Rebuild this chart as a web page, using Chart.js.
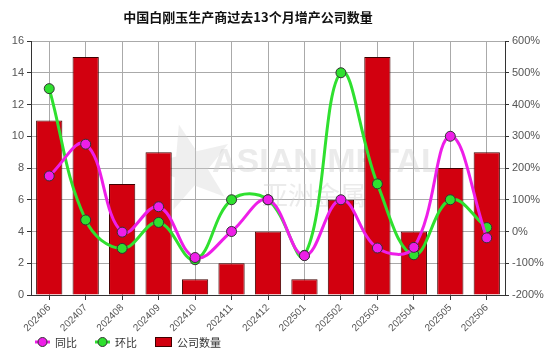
<!DOCTYPE html>
<html>
<head>
<meta charset="utf-8">
<script src="https://cdn.jsdelivr.net/npm/chart.js@4.4.1/dist/chart.umd.min.js"></script>
<style>
  html, body { margin: 0; padding: 0; background: #fff; }
  #wrap { width: 558px; height: 353px; position: relative; }
</style>
</head>
<body>
<div id="wrap"><canvas id="chart"></canvas></div>
<script>
// data
const months = ['202406', '202407', '202408', '202409', '202410', '202411', '202412',
    '202501', '202502', '202503', '202504', '202505', '202506'];
const companyCount = [11, 15, 7, 9, 1, 2, 4, 1, 6, 15, 4, 8, 9];
const yoyPct = [175, 275, -2, 78, -82, 0, 100, -76, 100, -52, -50, 300, -20];
const momPct = [450, 36.4, -53.3, 28.6, -88.9, 100, 100, -75, 500, 150, -73.3, 100, 12.5];

const titleText = '中国白刚玉生产商过去13个月增产公司数量';
const legendNames = ['同比', '环比', '公司数量'];

const MAGENTA = '#ee1ee8';
const GREEN = '#2fe02f';
const BAR_RED = '#d2000f';
const CJK = '"Noto Sans CJK SC", sans-serif';
const LATIN = '"Liberation Sans", Arial, sans-serif';

const extrasPlugin = {
    id: 'extras',
    beforeDatasetsDraw(chart) {
        const ctx = chart.ctx;
        ctx.save();
        // faint watermark
        ctx.fillStyle = 'rgba(210, 210, 210, 0.35)';
        ctx.beginPath();
        const cx = 190, cy = 168, ro = 45, ri = 18;
        for (let i = 0; i < 10; i++) {
            const r = i % 2 === 0 ? ro : ri;
            const a = -Math.PI / 2 + i * Math.PI / 5 - 0.25;
            const px = cx + r * Math.cos(a);
            const py = cy + r * Math.sin(a);
            if (i === 0) ctx.moveTo(px, py); else ctx.lineTo(px, py);
        }
        ctx.closePath();
        ctx.fill();
        ctx.fillStyle = 'rgba(205, 205, 205, 0.4)';
        ctx.font = 'bold 34px ' + LATIN;
        ctx.textBaseline = 'alphabetic';
        ctx.fillText('ASIAN METAL', 212, 172);
        ctx.font = '26px ' + CJK;
        ctx.fillText('亚洲金属网', 262, 205);
        ctx.restore();
    },
    afterDraw(chart) {
        const ctx = chart.ctx;
        ctx.save();
        ctx.fillStyle = '#111';
        ctx.font = 'bold 13px ' + CJK;
        ctx.textAlign = 'center';
        ctx.textBaseline = 'middle';
        ctx.fillText(titleText, 248, 17);

        // legend
        const ly = 342;
        ctx.font = '11px ' + CJK;
        ctx.textAlign = 'left';
        ctx.fillStyle = '#333';
        [[35, MAGENTA], [95, GREEN]].forEach(function (item, i) {
            const x = item[0];
            ctx.strokeStyle = item[1];
            ctx.lineWidth = 3;
            ctx.beginPath();
            ctx.moveTo(x, ly);
            ctx.lineTo(x + 15, ly);
            ctx.stroke();
            ctx.beginPath();
            ctx.arc(x + 7.5, ly, 4.5, 0, Math.PI * 2);
            ctx.fillStyle = item[1];
            ctx.fill();
            ctx.lineWidth = 1;
            ctx.strokeStyle = '#333';
            ctx.stroke();
            ctx.fillStyle = '#333';
            ctx.fillText(legendNames[i], x + 20, ly + 1);
        });
        ctx.fillStyle = BAR_RED;
        ctx.fillRect(155, ly - 5, 17, 10);
        ctx.strokeStyle = '#400000';
        ctx.lineWidth = 1;
        ctx.strokeRect(155.5, ly - 4.5, 16, 9);
        ctx.fillStyle = '#333';
        ctx.fillText(legendNames[2], 177, ly + 1);
        ctx.restore();
    },
};

new Chart(document.getElementById('chart'), {
    data: {
        labels: months,
        datasets: [
            {
                type: 'line',
                label: legendNames[0],
                data: yoyPct,
                yAxisID: 'y1',
                order: 0,
                borderColor: MAGENTA,
                borderWidth: 3,
                tension: 0.4,
                pointRadius: 5,
                pointBackgroundColor: MAGENTA,
                pointBorderColor: '#333',
                pointBorderWidth: 1,
            },
            {
                type: 'line',
                label: legendNames[1],
                data: momPct,
                yAxisID: 'y1',
                order: 1,
                borderColor: GREEN,
                borderWidth: 3,
                tension: 0.4,
                pointRadius: 5,
                pointBackgroundColor: GREEN,
                pointBorderColor: '#333',
                pointBorderWidth: 1,
            },
            {
                type: 'bar',
                label: legendNames[2],
                data: companyCount,
                yAxisID: 'y',
                order: 2,
                backgroundColor: BAR_RED,
                borderColor: '#400000',
                borderWidth: 1,
                categoryPercentage: 0.72,
                barPercentage: 1,
            },
        ],
    },
    options: {
        responsive: true,
        maintainAspectRatio: false,
        animation: false,
        layout: { padding: { top: 41, left: 0, right: 0, bottom: 12 } },
        plugins: {
            legend: { display: false },
            title: { display: false },
            tooltip: { enabled: false },
        },
        scales: {
            x: {
                offset: true,
                grid: {
                    offset: false,
                    color: '#aaa',
                    borderDash: [2, 2],
                    tickBorderDash: [],
                    tickColor: '#333',
                    tickLength: 5,
                },
                border: { color: '#333', width: 1 },
                ticks: {
                    maxRotation: 45,
                    minRotation: 45,
                    color: '#555',
                    padding: 2,
                    font: { family: LATIN, size: 10 },
                },
                afterFit(scale) { scale.height = 46; },
            },
            y: {
                position: 'left',
                min: 0,
                max: 16,
                ticks: {
                    stepSize: 2,
                    color: '#555',
                    padding: 3,
                    font: { family: LATIN, size: 11 },
                },
                grid: {
                    color: '#aaa',
                    borderDash: [2, 2],
                    tickBorderDash: [],
                    tickColor: '#333',
                    tickLength: 4,
                },
                border: { color: '#333', width: 1 },
                afterFit(scale) { scale.width = 31; },
            },
            y1: {
                position: 'right',
                min: -200,
                max: 600,
                ticks: {
                    stepSize: 100,
                    color: '#555',
                    padding: 3,
                    font: { family: LATIN, size: 11 },
                    callback: value => value + '%',
                },
                grid: {
                    drawOnChartArea: false,
                    tickColor: '#333',
                    tickLength: 4,
                },
                border: { color: '#333', width: 1 },
                afterFit(scale) { scale.width = 53; },
            },
        },
    },
    plugins: [extrasPlugin],
});
</script>
</body>
</html>
